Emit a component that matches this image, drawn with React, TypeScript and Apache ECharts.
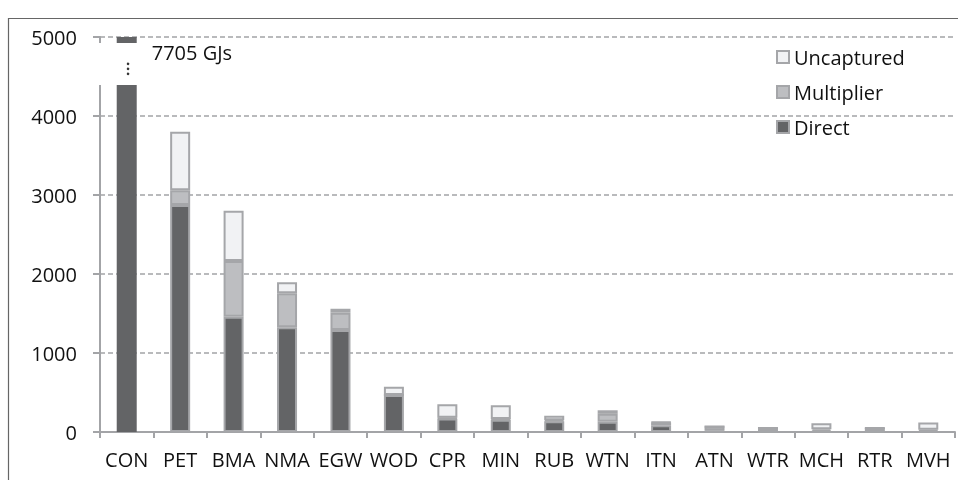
import React, { useEffect, useRef } from "react";
import * as echarts from "echarts";

const categories = ["CON", "PET", "BMA", "NMA", "EGW", "WOD", "CPR", "MIN", "RUB", "WTN", "ITN", "ATN", "WTR", "MCH", "RTR", "MVH"];
const direct = [7705, 2875, 1460, 1325, 1290, 468, 170, 155, 135, 130, 85, 15, 5, 10, 5, 10];
const multiplier = [0, 185, 705, 430, 220, 0, 10, 10, 15, 100, 35, 55, 45, 25, 45, 20];
const uncaptured = [0, 740, 635, 140, 50, 105, 170, 175, 55, 45, 5, 0, 0, 75, 0, 90];
const yTicks = { min: 0, max: 5000, interval: 1000 };
const conLabel = "7705 GJs";

const FONT = "'Open Sans', sans-serif";
const TXT = "#111";
const AXIS = "#a3a4a7";
const BORDER = "#a5a6a9";

export default function App() {
  const ref = useRef<HTMLDivElement>(null);
  useEffect(() => {
    if (!ref.current) return;
    const chart = echarts.init(ref.current, null, { renderer: "svg" });
    const barStyle = (color: string) => ({ color, borderColor: BORDER, borderWidth: 2 });
    chart.setOption({
      animation: false,
      grid: { left: 100, right: 3, top: 37, bottom: 48 },
      legend: {
        orient: "vertical",
        left: 771,
        top: 42,
        itemWidth: 12,
        itemHeight: 12,
        itemGap: 15,
        icon: "rect",
        data: ["Uncaptured", "Multiplier", "Direct"],
        textStyle: { fontFamily: FONT, fontSize: 20, color: TXT },
      },
      xAxis: {
        type: "category",
        data: categories,
        axisLine: { lineStyle: { color: AXIS, width: 2 } },
        axisTick: { show: true, length: 6, lineStyle: { color: AXIS, width: 2 } },
        axisLabel: { fontFamily: FONT, fontSize: 20, color: TXT, margin: 17, interval: 0 },
      },
      yAxis: {
        type: "value",
        min: yTicks.min,
        max: yTicks.max,
        interval: yTicks.interval,
        axisLine: { show: true, lineStyle: { color: AXIS, width: 2 } },
        axisTick: { show: true, length: 7, lineStyle: { color: AXIS, width: 2 } },
        axisLabel: { fontFamily: FONT, fontSize: 20, color: TXT, margin: 23, formatter: (v: number) => String(v) },
        splitLine: { lineStyle: { color: AXIS, width: 1.5, type: [5, 3] } },
      },
      series: [
        {
          name: "Direct",
          type: "bar",
          stack: "total",
          barWidth: 20,
          itemStyle: barStyle("#636466"),
          data: direct.map((v, i) => (i === 0 ? { value: v, itemStyle: { borderWidth: 0 } } : v)),
        },
        {
          name: "Multiplier",
          type: "bar",
          stack: "total",
          barWidth: 20,
          itemStyle: barStyle("#bdbec1"),
          data: multiplier.map((v, i) => (i === 0 ? { value: v, itemStyle: { borderWidth: 0 } } : v)),
        },
        {
          name: "Uncaptured",
          type: "bar",
          stack: "total",
          barWidth: 20,
          itemStyle: barStyle("#f1f2f4"),
          data: uncaptured.map((v, i) => (i === 0 ? { value: v, itemStyle: { borderWidth: 0 } } : v)),
        },
      ],
    });
    const p = chart.convertToPixel({ gridIndex: 0 }, [categories[0], yTicks.max]) as number[];
    const cx = p[0];
    const yTop = p[1];
    chart.setOption({
      graphic: [
        { type: "line", z: 100, shape: { x1: 8, y1: 18.5, x2: 958, y2: 18.5 }, style: { stroke: "#666", lineWidth: 1.2 } },
        { type: "line", z: 100, shape: { x1: 8.5, y1: 18, x2: 8.5, y2: 480 }, style: { stroke: "#666", lineWidth: 1.2 } },
        { type: "rect", z: 100, shape: { x: 94, y: yTop + 6, width: cx + 13 - 94, height: 42 }, style: { fill: "#fff" } },
        { type: "circle", z: 101, shape: { cx: cx + 1, cy: yTop + 26, r: 1.3 }, style: { fill: "#333" } },
        { type: "circle", z: 101, shape: { cx: cx + 1, cy: yTop + 31, r: 1.3 }, style: { fill: "#333" } },
        { type: "circle", z: 101, shape: { cx: cx + 1, cy: yTop + 36, r: 1.3 }, style: { fill: "#333" } },
        {
          type: "text",
          z: 101,
          x: cx + 25,
          y: yTop + 15,
          style: { text: conLabel, fontFamily: FONT, fontSize: 20, fill: TXT, verticalAlign: "middle" },
        },
      ],
    });
    return () => chart.dispose();
  }, []);
  return <div ref={ref} style={{ position: "fixed", left: 0, top: 0, width: 958, height: 480 }} />;
}
